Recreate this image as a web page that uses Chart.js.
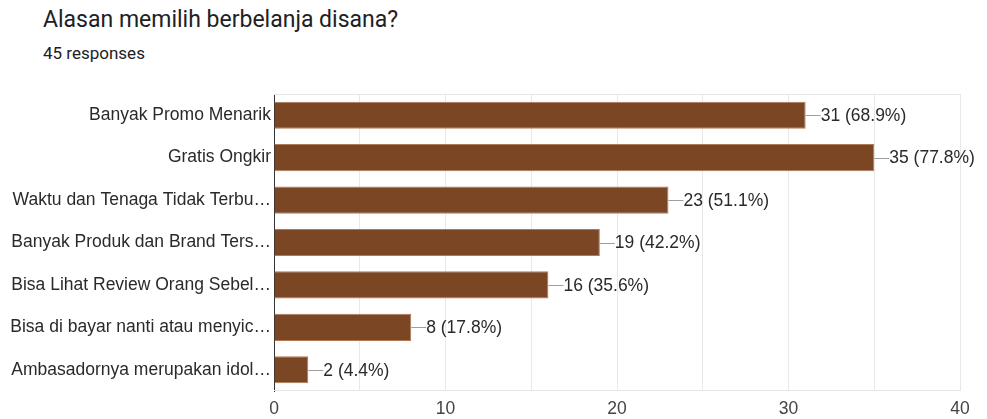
<!DOCTYPE html>
<html>
<head>
<meta charset="utf-8">
<script src="https://cdn.jsdelivr.net/npm/chart.js@4/dist/chart.umd.min.js"></script>
<style>
    html, body { margin: 0; padding: 0; background: #fff; }
    body { width: 987px; height: 419px; position: relative; overflow: hidden; font-family: Roboto, Arial, sans-serif; }
    .title { position: absolute; left: 43px; top: 6px; font-size: 23px; color: #202124; }
    .subtitle { position: absolute; left: 43px; top: 43px; font-size: 17px; color: #202124; }
    #reasonChart { position: absolute; left: 0; top: 0; }
</style>
</head>
<body>
<div class="title">Alasan memilih berbelanja disana?</div>
<div class="subtitle">45 responses</div>
<canvas id="reasonChart" width="987" height="419"></canvas>
<script>
const totalResponses = 45;
const reasons = [
    'Banyak Promo Menarik',
    'Gratis Ongkir',
    'Waktu dan Tenaga Tidak Terbu…',
    'Banyak Produk dan Brand Ters…',
    'Bisa Lihat Review Orang Sebel…',
    'Bisa di bayar nanti atau menyic…',
    'Ambasadornya merupakan idol…'
];
const counts = [31, 35, 23, 19, 16, 8, 2];
const xTicks = [0, 10, 20, 30, 40];

const axisFont = '"Liberation Sans", Arial, sans-serif';
const fontSize = 17.5;

// leader line + "n (p%)" after each bar, plus the top/bottom frame lines
const valueLabels = {
    id: 'valueLabels',
    afterDatasetsDraw(chart) {
        const ctx = chart.ctx;
        const area = chart.chartArea;
        ctx.save();
        ctx.strokeStyle = '#e6e6e6';
        ctx.lineWidth = 1;
        ctx.beginPath();
        ctx.moveTo(area.left, area.top + 0.5);
        ctx.lineTo(area.right, area.top + 0.5);
        ctx.moveTo(area.left, area.bottom - 0.5);
        ctx.lineTo(area.right, area.bottom - 0.5);
        ctx.stroke();

        const meta = chart.getDatasetMeta(0);
        ctx.font = fontSize + 'px ' + axisFont;
        ctx.textBaseline = 'middle';
        ctx.textAlign = 'left';
        meta.data.forEach((bar, i) => {
            const v = counts[i];
            const pct = (v / totalResponses * 100).toFixed(1);
            const y = Math.round(bar.y) + 0.5;
            ctx.strokeStyle = '#9e9e9e';
            ctx.beginPath();
            ctx.moveTo(bar.x, y);
            ctx.lineTo(bar.x + 15, y);
            ctx.stroke();
            ctx.fillStyle = '#2a2a2a';
            ctx.fillText(`${v} (${pct}%)`, bar.x + 15, bar.y + 1);
        });
        ctx.restore();
    }
};

new Chart(document.getElementById('reasonChart'), {
    type: 'bar',
    data: {
        labels: reasons,
        datasets: [{
            data: counts,
            backgroundColor: '#7a4623',
            borderColor: '#b07a55',
            borderWidth: 1,
            categoryPercentage: 0.64,
            barPercentage: 1
        }]
    },
    options: {
        indexAxis: 'y',
        responsive: false,
        animation: false,
        layout: { padding: { top: 94, right: 27, bottom: 0, left: 0 } },
        plugins: {
            legend: { display: false },
            tooltip: { enabled: false }
        },
        scales: {
            x: {
                min: 0,
                max: 40,
                afterBuildTicks: scale => {
                    scale.ticks = [0, 5, 10, 15, 20, 25, 30, 35, 40].map(v => ({ value: v }));
                },
                ticks: {
                    color: '#444',
                    font: { family: axisFont, size: fontSize },
                    padding: 8,
                    maxRotation: 0,
                    autoSkip: false,
                    callback: v => xTicks.includes(v) ? String(v) : ''
                },
                grid: { color: '#e8e8e8', drawTicks: false },
                border: { display: false },
                afterFit: scale => { scale.height = 28; }
            },
            y: {
                ticks: {
                    color: '#2a2a2a',
                    font: { family: axisFont, size: fontSize },
                    padding: 3
                },
                grid: { display: false, drawTicks: false },
                border: { color: '#333', width: 1 },
                afterFit: scale => { scale.width = 274; }
            }
        }
    },
    plugins: [valueLabels]
});
</script>
</body>
</html>
